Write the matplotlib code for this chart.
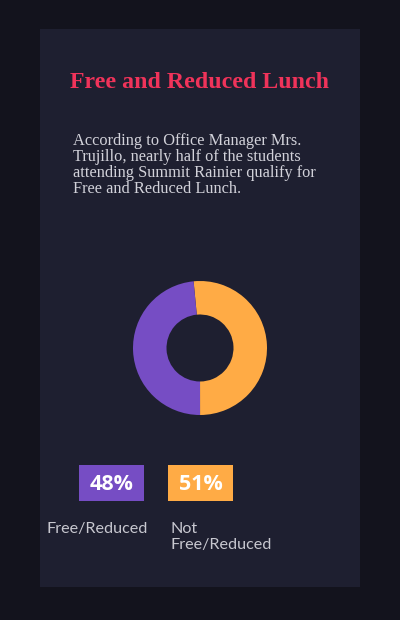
import matplotlib.pyplot as plt
from matplotlib.patches import Rectangle

# ------------------------------
# Data
# ------------------------------
labels = ["Not\nFree/Reduced", "Free/Reduced"]
values = [51, 48]
colors = ["#ffab45", "#764dc4"]

title = "Free and Reduced Lunch"
body = ("According to Office Manager Mrs.\n"
        "Trujillo, nearly half of the students\n"
        "attending Summit Rainier qualify for\n"
        "Free and Reduced Lunch.")

W, H = 400, 620
fig = plt.figure(figsize=(W / 100, H / 100), dpi=100)
fig.patch.set_facecolor("#13131d")

def fx(x):
    return x / W

def fy(y):
    return 1 - y / H

# card background
fig.add_artist(Rectangle((fx(40), fy(587)), fx(320), 558 / H,
                         transform=fig.transFigure, facecolor="#1e1f30",
                         edgecolor="none", zorder=-5))

fig.text(fx(200), fy(83), title, ha="center", va="center", color="#f0335a",
         fontsize=17.2, fontweight="bold", family="Liberation Serif")
fig.text(fx(73), fy(133), body, ha="left", va="top", color="#d2d2da",
         fontsize=11.8, family="Liberation Serif", linespacing=1.0)

# ------------------------------
# Donut
# ------------------------------
cx, cy, r = 200, 348, 67
ax = fig.add_axes([fx(cx - r), fy(cy + r), 2 * r / W, 2 * r / H])
ax.set_zorder(5)
ax.pie(values, colors=colors, startangle=95.5, counterclock=False,
       radius=1, wedgeprops=dict(width=0.5, edgecolor="none"))
ax.set_aspect("equal")
ax.set_xlim(-1, 1)
ax.set_ylim(-1, 1)
ax.axis("off")

# ------------------------------
# Legend boxes
# ------------------------------
box_x = [168, 79]
label_x = [171, 47]
for i in range(len(values)):
    fig.add_artist(Rectangle((fx(box_x[i]), fy(501)), 65 / W, 36 / H,
                             transform=fig.transFigure, facecolor=colors[i],
                             edgecolor="none", zorder=1))
    fig.text(fx(box_x[i] + 32.5), fy(484), f"{values[i]}%", ha="center",
             va="center", color="white", fontsize=15.5, fontweight="bold",
             family="Open Sans", zorder=2)
    fig.text(fx(label_x[i]), fy(522), labels[i], ha="left", va="top",
             color="#c8c8d0", fontsize=11.6, family="Lato", linespacing=1.15)

fig.savefig("out.png", dpi=100, facecolor=fig.get_facecolor())
